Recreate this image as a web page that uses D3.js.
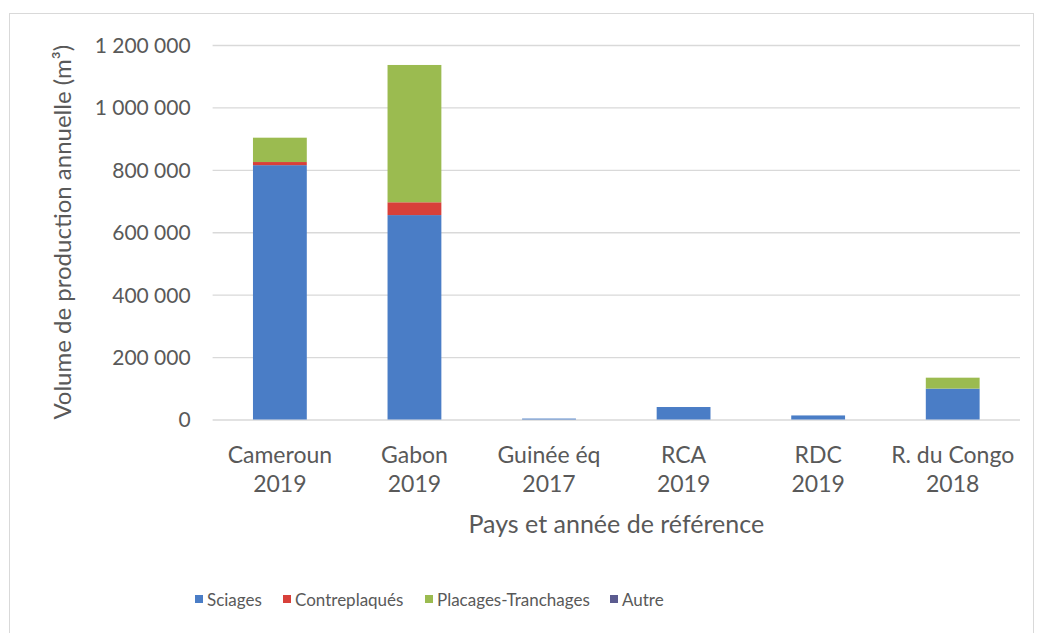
<!DOCTYPE html>
<html>
<head>
<meta charset="utf-8">
<script src="https://cdn.jsdelivr.net/npm/d3@7"></script>
<style>
  body { margin: 0; background: #fff; }
  text { font-family: Lato, "Open Sans", sans-serif; fill: #595959; }
</style>
</head>
<body>
<div id="chart"></div>
<script>
// data
const countries = ["Cameroun", "Gabon", "Guinée éq", "RCA", "RDC", "R. du Congo"];
const years = ["2019", "2019", "2017", "2019", "2019", "2018"];
const sciages = [815000, 655000, 3000, 40000, 13000, 99000];
const contreplaques = [10000, 41000, 0, 0, 0, 0];
const placages = [78000, 440000, 0, 0, 0, 35000];
const autre = [0, 0, 0, 0, 0, 0];
const seriesNames = ["Sciages", "Contreplaqués", "Placages-Tranchages", "Autre"];
const seriesColors = ["#4a7dc6", "#d8403a", "#9bbb50", "#5b5b8f"];
const yTicks = [0, 200000, 400000, 600000, 800000, 1000000, 1200000];

const W = 1041, H = 633;
const plot = { left: 212.6, right: 1020, top: 45, bottom: 419.5 };

let svg = d3.select("#chart")
    .append("svg")
    .attr("width", W)
    .attr("height", H);

// outer chart border
svg.append("rect")
    .attr("x", 9.5).attr("y", 13.5)
    .attr("width", 1024).attr("height", 640)
    .attr("fill", "none")
    .attr("stroke", "#d9d9d9");

let rows = countries.map((c, i) => ({
    key: i,
    "Sciages": sciages[i],
    "Contreplaqués": contreplaques[i],
    "Placages-Tranchages": placages[i],
    "Autre": autre[i]
}));

let x = d3.scaleBand()
    .domain(countries.map((c, i) => i))
    .range([plot.left, plot.right])
    .paddingInner(0.6)
    .paddingOuter(0.3);

let y = d3.scaleLinear()
    .domain([0, 1200000])
    .range([plot.bottom, plot.top]);

let fr = d3.formatLocale({ decimal: ",", thousands: "\u202f", grouping: [3], currency: ["", " €"] });
let fmt = fr.format(",");

// gridlines + y labels
let yAxis = svg.append("g")
    .attr("transform", "translate(" + plot.left + ",0)")
    .call(d3.axisLeft(y).tickValues(yTicks).tickSize(-(plot.right - plot.left)).tickPadding(22).tickFormat(fmt));
yAxis.select(".domain").remove();
yAxis.selectAll("line").attr("stroke", "#d9d9d9").attr("stroke-width", 1.3);
yAxis.selectAll("text")
    .attr("dy", "0.35em")
    .style("font-size", "21px")
    .style("fill", "#595959");

// stacked bars
let stack = d3.stack().keys(seriesNames)(rows);
svg.append("g")
    .selectAll("g")
    .data(stack)
    .enter()
    .append("g")
    .attr("fill", (d, i) => seriesColors[i])
    .selectAll("rect")
    .data(d => d)
    .enter()
    .append("rect")
    .attr("x", d => x(d.data.key))
    .attr("width", x.bandwidth())
    .attr("y", d => y(d[1]))
    .attr("height", d => y(d[0]) - y(d[1]));

// category labels (two lines)
let cat = svg.append("g");
countries.forEach((c, i) => {
    let cx = x(i) + x.bandwidth() / 2;
    cat.append("text")
        .attr("x", cx).attr("y", 463)
        .attr("text-anchor", "middle")
        .style("font-size", "23px")
        .text(c);
    cat.append("text")
        .attr("x", cx).attr("y", 492)
        .attr("text-anchor", "middle")
        .style("font-size", "23px")
        .text(years[i]);
});

// axis titles
svg.append("text")
    .attr("x", (plot.left + plot.right) / 2).attr("y", 533)
    .attr("text-anchor", "middle")
    .style("font-size", "25px")
    .text("Pays et année de référence");

svg.append("text")
    .attr("transform", "translate(71," + ((plot.top + plot.bottom) / 2) + ") rotate(-90)")
    .attr("text-anchor", "middle")
    .style("font-size", "24px")
    .text("Volume de production annuelle (m³)");

// legend
let legendX = [195, 283, 425, 610];
let legend = svg.append("g");
seriesNames.forEach((s, i) => {
    legend.append("rect")
        .attr("x", legendX[i]).attr("y", 595)
        .attr("width", 8).attr("height", 8)
        .attr("fill", seriesColors[i]);
    legend.append("text")
        .attr("x", legendX[i] + 12).attr("y", 605.5)
        .style("font-size", "17px")
        .text(s);
});
</script>
</body>
</html>
